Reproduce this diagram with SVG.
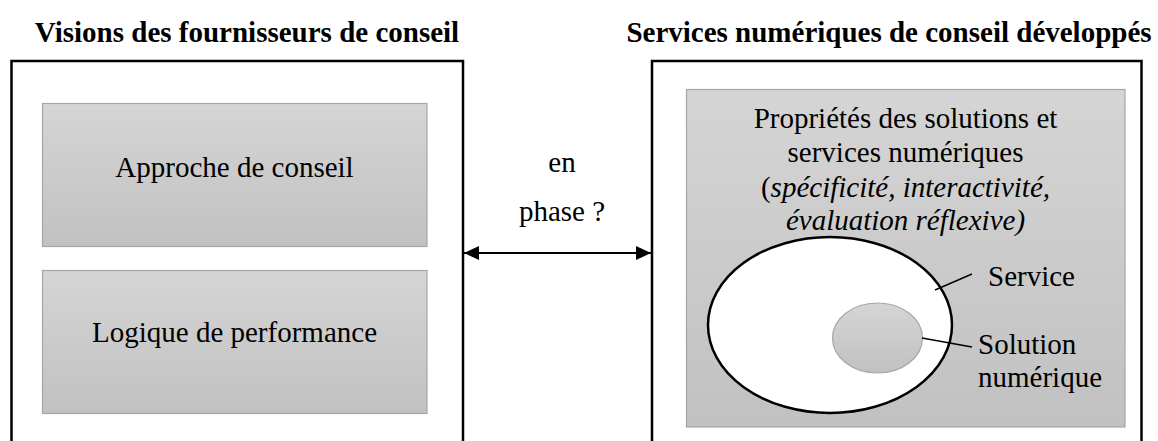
<svg xmlns="http://www.w3.org/2000/svg" width="1158" height="441" viewBox="0 0 1158 441">
<style>
.t{font-family:'Liberation Serif','Times New Roman',Times,'DejaVu Serif',serif;font-size:29px;fill:#000}
.b{font-weight:bold}
.c{text-anchor:middle}
.frame{fill:#fff;stroke:#000;stroke-width:2.5}
.box{fill:url(#g);stroke:#a6a6a6;stroke-width:1.2}
.lead{stroke:#000;stroke-width:1.4;fill:none}
</style>
<defs>
<linearGradient id="g" x1="0" y1="0" x2="0" y2="1">
<stop offset="0" stop-color="#d5d5d5"/>
<stop offset="1" stop-color="#c1c1c1"/>
</linearGradient>
<marker id="ah" viewBox="0 0 15 14" refX="15" refY="7" markerWidth="15" markerHeight="14" markerUnits="userSpaceOnUse" orient="auto-start-reverse">
<path d="M0,0 L15,7 L0,14 Z" fill="#000"/>
</marker>
</defs>
<g id="titles">
<text class="t b c" x="247" y="42">Visions des fournisseurs de conseil</text>
<text class="t b c" x="889" y="42">Services numériques de conseil développés</text>
</g>
<g id="left-frame">
<rect class="frame" x="11.5" y="61" width="451.5" height="420"/>
</g>
<g id="right-frame">
<rect class="frame" x="652" y="61" width="489.5" height="420"/>
</g>
<g id="approche">
<rect class="box" x="42.5" y="103.5" width="384.5" height="143"/>
<text class="t c" x="234.5" y="177">Approche de conseil</text>
</g>
<g id="logique">
<rect class="box" x="42.5" y="270.5" width="384.5" height="143"/>
<text class="t c" x="234.5" y="342">Logique de performance</text>
</g>
<g id="proprietes">
<rect class="box" x="686.5" y="89.5" width="438.5" height="337.5"/>
<text class="t c" x="905.5" y="128">Propriétés des solutions et</text>
<text class="t c" x="905.5" y="162">services numériques</text>
<text class="t c" x="905.5" y="197">(<tspan font-style="italic">spécificité, interactivité,</tspan></text>
<text class="t c" x="905.5" y="230" font-style="italic">évaluation réflexive)</text>
</g>
<g id="service">
<ellipse cx="830" cy="325" rx="122" ry="88" fill="#fff" stroke="#000" stroke-width="2.5"/>
<text class="t" x="988" y="286">Service</text>
</g>
<g id="solution">
<ellipse cx="877.5" cy="338" rx="45" ry="35" fill="url(#g)" stroke="#a6a6a6" stroke-width="1.2"/>
<text class="t" x="978" y="354">Solution</text>
<text class="t" x="978" y="387">numérique</text>
</g>
<g id="connectors">
<line x1="464" y1="253" x2="651" y2="253" stroke="#000" stroke-width="1.8" marker-start="url(#ah)" marker-end="url(#ah)"/>
<text class="t c" x="562" y="172">en</text>
<text class="t c" x="562" y="221">phase ?</text>
<line class="lead" x1="935" y1="290" x2="972" y2="274"/>
<line class="lead" x1="922" y1="338" x2="972" y2="347"/>
</g>
</svg>
